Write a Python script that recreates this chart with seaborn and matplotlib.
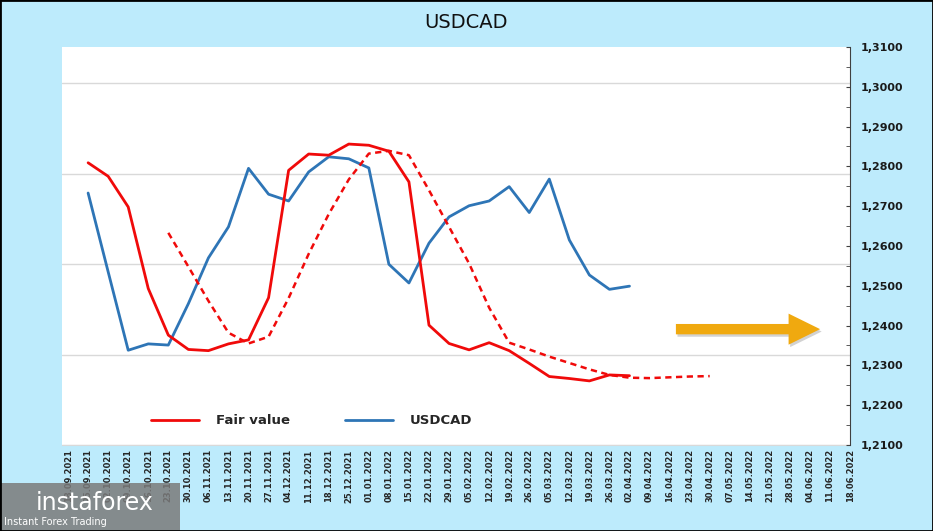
import numpy as np
import pandas as pd
import matplotlib
matplotlib.use('Agg')
import matplotlib.pyplot as plt
import seaborn as sns
from matplotlib.lines import Line2D
from matplotlib.patches import FancyArrow, Rectangle

# weekly category labels
dates = list(pd.date_range('2021-09-18', periods=40, freq='7D').strftime('%d.%m.%Y'))

# USDCAD (blue), starts at 25.09.2021
usdcad_start = 1
usdcad = [1.2733, 1.2535, 1.2338, 1.2354, 1.2351, 1.2455, 1.2570, 1.2648, 1.2795, 1.2730,
          1.2713, 1.2786, 1.2824, 1.2819, 1.2796, 1.2554, 1.2507, 1.2607, 1.2673, 1.2701,
          1.2713, 1.2749, 1.2684, 1.2768, 1.2615, 1.2527, 1.2491, 1.2499]

# Fair value (red solid), starts at 25.09.2021
fair_start = 1
fair = [1.2809, 1.2775, 1.2698, 1.2493, 1.2376, 1.2340, 1.2337, 1.2354, 1.2364, 1.2470,
        1.2790, 1.2831, 1.2828, 1.2856, 1.2853, 1.2838, 1.2761, 1.2401, 1.2355, 1.2339,
        1.2357, 1.2337, 1.2305, 1.2272, 1.2267, 1.2261, 1.2276, 1.2274]

# Fair value shifted / forecast (red dashed), starts at 23.10.2021
fair_fc_start = 5
fair_fc = [1.2633, 1.2548, 1.2462, 1.2382, 1.2355, 1.2372, 1.2469, 1.2580, 1.2680, 1.2767,
           1.2832, 1.2839, 1.2828, 1.2740, 1.2648, 1.2556, 1.2445, 1.2357, 1.2340, 1.2322,
           1.2306, 1.2290, 1.2276, 1.2269, 1.2268, 1.2270, 1.2272, 1.2273]

yticks = [1.21, 1.22, 1.23, 1.24, 1.25, 1.26, 1.27, 1.28, 1.29, 1.30, 1.31]
ytick_labels = ['1,2100', '1,2200', '1,2300', '1,2400', '1,2500', '1,2600',
                '1,2700', '1,2800', '1,2900', '1,3000', '1,3100']

bg = '#BDEBFC'
red = '#F00A0A'
blue = '#2E75B6'

sns.set_style('white')
plt.rcParams['font.family'] = ['DejaVu Sans']

fig = plt.figure(figsize=(9.33, 5.31), dpi=100, facecolor=bg)
ax = fig.add_axes([0.0665, 0.162, 0.8446, 0.7496])
ax.set_facecolor('white')

# secondary axis on the right with the data
ax2 = ax.twinx()

# hidden primary axis, only its gridlines show
ax.set_ylim(0, 4.4)
ax.set_yticks(range(5))
ax.yaxis.grid(True, color='#D9D9D9', lw=1)
ax.tick_params(axis='y', left=False, right=False, labelleft=False)
ax.set_xlim(-0.3, 39)
ax.set_xticks(range(len(dates)))
ax.set_xticklabels(dates, rotation=90, fontsize=6, fontweight='bold', color='#262626')
ax.tick_params(axis='x', length=0, pad=3)
for s in ['top', 'left', 'right']:
    ax.spines[s].set_visible(False)
ax.spines['bottom'].set_color('#D9D9D9')

ax2.set_ylim(1.21, 1.31)
ax2.set_yticks(yticks, labels=ytick_labels, fontsize=8, fontweight='bold', color='#1a1a1a')
ax2.set_yticks(np.arange(1.215, 1.31, 0.01), minor=True)
ax2.tick_params(axis='y', which='both', direction='in', length=3, color='#404040', pad=8)
for s in ['top', 'left', 'bottom']:
    ax2.spines[s].set_visible(False)
ax2.spines['right'].set_color('#404040')

sns.lineplot(x=np.arange(usdcad_start, usdcad_start + len(usdcad)), y=usdcad,
             color=blue, lw=2, ax=ax2, legend=False)
sns.lineplot(x=np.arange(fair_start, fair_start + len(fair)), y=fair,
             color=red, lw=2, ax=ax2, legend=False)
sns.lineplot(x=np.arange(fair_fc_start, fair_fc_start + len(fair_fc)), y=fair_fc,
             color=red, lw=1.8, ax=ax2, legend=False, linestyle=(0, (2.5, 1.8)))
ax2.set_xlim(-0.3, 39)

handles = [Line2D([], [], color=red, lw=2), Line2D([], [], color=blue, lw=2)]
ax2.legend(handles, ['Fair value', 'USDCAD'], loc='lower left', bbox_to_anchor=(0.098, 0.015),
           ncol=2, frameon=False, handlelength=3.6, handletextpad=1.3, columnspacing=4.2,
           prop={'weight': 'bold', 'size': 9.5})

# yellow arrow pointing to the future
shadow = FancyArrow(0.781, 0.285, 0.143, 0, width=0.026, head_width=0.078, head_length=0.04,
                    length_includes_head=False, transform=ax2.transAxes, color='#7f7f7f',
                    alpha=0.35, lw=0)
arrow = FancyArrow(0.779, 0.291, 0.143, 0, width=0.026, head_width=0.078, head_length=0.04,
                   length_includes_head=False, transform=ax2.transAxes, color='#F0A90F', lw=0)
ax2.add_patch(shadow)
ax2.add_patch(arrow)

fig.text(0.5, 1 - 22 / 531, 'USDCAD', ha='center', va='center', fontsize=14, color='#111111')

# watermark box
fig.patches.append(Rectangle((0, 0), 180 / 933, 48 / 531, transform=fig.transFigure,
                             facecolor='#7a7a7a', alpha=0.85, lw=0, zorder=5))
fig.text(36 / 933, (531 - 503) / 531, 'instaforex', fontsize=17, color='white',
         va='center', ha='left', zorder=6)
fig.text(4 / 933, (531 - 522) / 531, 'Instant Forex Trading', fontsize=7, color='white',
         va='center', ha='left', zorder=6)
fig.patches.append(Rectangle((0, 0), 1, 1, transform=fig.transFigure, fill=False,
                             edgecolor='black', lw=2, zorder=10))

plt.savefig('out.png', dpi=100, facecolor=bg)
